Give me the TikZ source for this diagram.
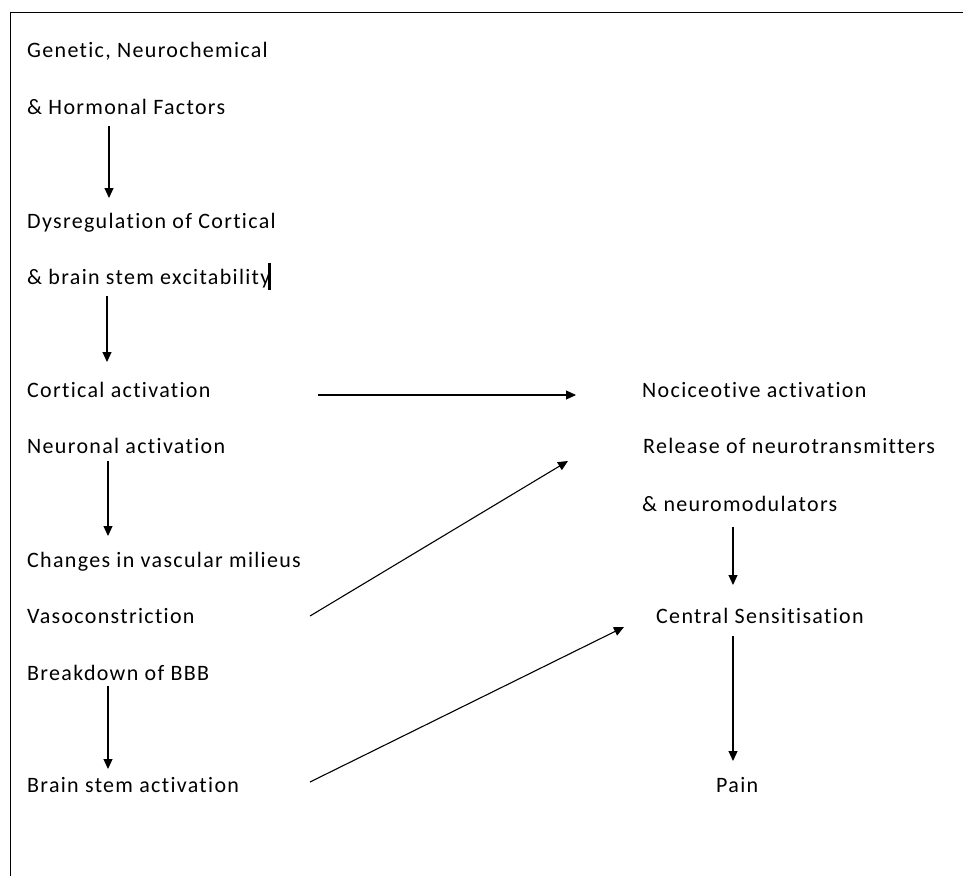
\documentclass[tikz,border=0pt]{standalone}
\usepackage{fontspec}
\setmainfont[LetterSpace=6,Ligatures=NoCommon]{Carlito}
\usetikzlibrary{arrows.meta}
\begin{document}
\begin{tikzpicture}[x=1pt,y=1pt,
  lbl/.style={anchor=base west,inner sep=0pt,font=\fontsize{22}{26}\selectfont},
  arr/.style={line width=1.1pt,-{Triangle[length=10pt,width=9pt]}},
  frame/.style={line width=1pt}]
\useasboundingbox (0,0) rectangle (963,-876);
\coordinate (ftop) at (963,-12);
\coordinate (fcorner) at (10,-12);
\coordinate (fbot) at (10,-876);
\draw[frame] (ftop) -- (fcorner) -- (fbot);
% left column
\node[lbl] (g1) at (27,-57) {Genetic, Neurochemical};
\node[lbl] (g2) at (27,-114) {\& Hormonal Factors};
\node[lbl] (d1) at (27,-228) {Dysregulation of Cortical};
\node[lbl] (d2) at (27,-284) {\& brain stem excitability};
\node[lbl] (ca) at (27,-397) {Cortical activation};
\node[lbl] (na) at (27,-453) {Neuronal activation};
\node[lbl] (cv) at (27,-567) {Changes in vascular milieus};
\node[lbl] (vc) at (27,-623) {Vasoconstriction};
\node[lbl] (bb) at (27,-680) {Breakdown of BBB};
\node[lbl] (bs) at (27,-792) {Brain stem activation};
% right column
\node[lbl] (no) at (642,-397) {Nociceotive activation};
\node[lbl] (rn) at (643,-453) {Release of neurotransmitters};
\node[lbl] (nm) at (642,-511) {\& neuromodulators};
\node[lbl] (cs) at (656,-623) {Central Sensitisation};
\node[lbl] (pn) at (716,-792) {Pain};
% text cursor
\coordinate (cur1) at (269,-263);
\coordinate (cur2) at (269,-290);
\draw[line width=3pt] (cur1) -- (cur2);
% arrow endpoints
\coordinate (a1s) at (109,-126); \coordinate (a1e) at (109,-198);
\coordinate (a2s) at (107,-296); \coordinate (a2e) at (107,-362);
\coordinate (a3s) at (108,-461); \coordinate (a3e) at (108,-536);
\coordinate (a4s) at (108,-686); \coordinate (a4e) at (108,-769);
\coordinate (h1s) at (318,-395); \coordinate (h1e) at (576,-395);
\coordinate (d1s) at (310,-616); \coordinate (d1e) at (568,-461);
\coordinate (d2s) at (310,-782); \coordinate (d2e) at (624,-627);
\coordinate (r1s) at (733,-527); \coordinate (r1e) at (733,-585);
\coordinate (r2s) at (733,-636); \coordinate (r2e) at (733,-761);
\draw[arr] (a1s) -- (a1e);
\draw[arr] (a2s) -- (a2e);
\draw[arr] (a3s) -- (a3e);
\draw[arr] (a4s) -- (a4e);
\draw[arr] (h1s) -- (h1e);
\draw[arr] (d1s) -- (d1e);
\draw[arr] (d2s) -- (d2e);
\draw[arr] (r1s) -- (r1e);
\draw[arr] (r2s) -- (r2e);
\end{tikzpicture}
\end{document}
